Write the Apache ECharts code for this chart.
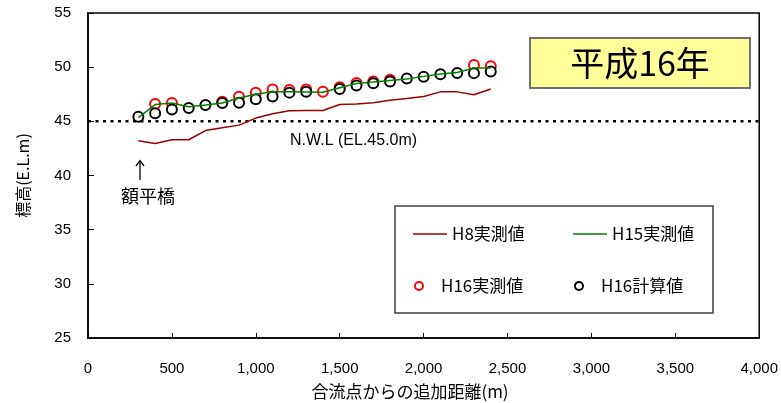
<!DOCTYPE html>
<html>
<head>
<meta charset="utf-8">
<script src="https://cdn.jsdelivr.net/npm/echarts@6/dist/echarts.min.js"></script>
<style>
html,body{margin:0;padding:0;background:#fff;}
#chart{width:781px;height:403px;}
</style>
</head>
<body>
<div id="chart"></div>
<script>
// ---- data ----
const seriesNames = ['H8実測値', 'H15実測値', 'H16実測値', 'H16計算値'];
const h8Dist  = [300,400,500,600,700,800,900,1000,1100,1200,1300,1400,1500,1600,1700,1800,1900,2000,2100,2200,2300,2400];
const h8Elev  = [43.2,42.95,43.3,43.3,44.15,44.4,44.65,45.3,45.7,45.98,46.0,46.0,46.55,46.6,46.72,46.95,47.1,47.3,47.72,47.72,47.45,47.98];
const h15Dist = [300,400,500,600,700,800,900,1000,1100,1200,1300,1400,1500,1600,1700,1800,1900,2000,2100,2200,2300,2400];
const h15Elev = [45.35,46.55,46.7,46.35,46.5,46.7,47.15,47.5,47.72,47.72,47.7,47.68,48.1,48.5,48.62,48.78,48.9,49.15,49.37,49.5,49.92,49.92];
const h16mDist = [400,500,800,900,1000,1100,1200,1300,1400,1500,1600,1700,1800,2300,2400];
const h16mElev = [46.6,46.7,46.8,47.27,47.65,47.95,47.9,47.95,47.72,48.15,48.55,48.68,48.85,50.2,50.08];
const h16cDist = [300,400,500,600,700,800,900,1000,1100,1200,1300,1500,1600,1700,1800,1900,2000,2100,2200,2300,2400];
const h16cElev = [45.43,45.75,46.1,46.22,46.5,46.7,46.72,47.03,47.3,47.65,47.72,47.98,48.3,48.52,48.68,48.95,49.12,49.35,49.47,49.45,49.6];
const nwlLevel = 45.0;
const xRange = [0, 4000];
const yRange = [25, 55];
const titleText = '平成16年';
const nwlText = 'N.W.L (EL.45.0m)';
const bridgeText = '額平橋';
const xTitle = '合流点からの追加距離(m)';
const yTitle = '標高(E.L.m)';

const zip = (xs, ys) => xs.map((x, i) => [x, ys[i]]);

const CJK = '"Noto Sans CJK JP", sans-serif';
const LAT = '"Liberation Sans", Arial, sans-serif';

const chart = echarts.init(document.getElementById('chart'), null, {renderer: 'canvas'});

function legendItem(name, left, top, isLine) {
  return {
    data: [isLine ? {name: name, icon: 'rect'} : {name: name, icon: 'emptyCircle'}],
    left: left, top: top, padding: 0,
    itemWidth: 34, itemHeight: isLine ? 1.5 : 8,
    symbolKeepAspect: true,
    selectedMode: false,
    itemStyle: isLine ? {} : {borderWidth: 1.2},
    textStyle: {fontFamily: CJK, fontSize: 17, color: '#000', lineHeight: 20}
  };
}

const option = {
  animation: false,
  backgroundColor: '#fff',
  grid: {left: 88, right: 16, top: 13, bottom: 65, show: true, borderColor: '#000', borderWidth: 1.5},
  legend: [
    legendItem(seriesNames[0], 413, 224, true),
    legendItem(seriesNames[1], 573, 224, true),
    legendItem(seriesNames[2], 414, 276, false),
    legendItem(seriesNames[3], 574, 276, false)
  ],
  xAxis: {
    type: 'value', min: xRange[0], max: xRange[1], interval: 500,
    axisLine: {lineStyle: {color: '#000', width: 1.5}},
    axisTick: {inside: true, length: 5, lineStyle: {color: '#000'}},
    splitLine: {show: false},
    axisLabel: {margin: 23, color: '#000', fontSize: 15, fontFamily: LAT,
      formatter: v => v.toLocaleString('en-US')}
  },
  yAxis: {
    type: 'value', min: yRange[0], max: yRange[1], interval: 5,
    name: yTitle, nameLocation: 'middle', nameGap: 57,
    nameTextStyle: {fontFamily: CJK, fontSize: 16, color: '#000'},
    axisLine: {lineStyle: {color: '#000', width: 1.5}},
    axisTick: {inside: true, length: 6, lineStyle: {color: '#000'}},
    splitLine: {show: false},
    axisLabel: {margin: 17, color: '#000', fontSize: 15, fontFamily: LAT, padding: [7, 0, 0, 0]}
  },
  series: [
    {
      name: 'NWL', type: 'line', data: [[xRange[0], nwlLevel], [xRange[1], nwlLevel]],
      symbol: 'none', silent: true,
      lineStyle: {color: '#000', width: 2.5, type: [3, 4.5]}
    },
    {
      name: seriesNames[0], type: 'line', data: zip(h8Dist, h8Elev),
      symbol: 'none', color: '#990000',
      lineStyle: {color: '#990000', width: 1.5}
    },
    {
      name: seriesNames[1], type: 'line', data: zip(h15Dist, h15Elev),
      symbol: 'none', color: '#008000',
      lineStyle: {color: '#008000', width: 1.5}
    },
    {
      name: seriesNames[2], type: 'scatter', data: zip(h16mDist, h16mElev),
      symbol: 'emptyCircle', symbolSize: 10,
      itemStyle: {color: '#ff0000', borderWidth: 1.3, opacity: 1}
    },
    {
      name: seriesNames[3], type: 'scatter', data: zip(h16cDist, h16cElev),
      symbol: 'emptyCircle', symbolSize: 10,
      itemStyle: {color: '#000000', borderWidth: 1.3, opacity: 1}
    }
  ],
  graphic: [
    {type: 'rect', shape: {x: 395, y: 206, width: 318, height: 107},
     style: {fill: '#fff', stroke: '#404040', lineWidth: 1.5}, z: 0},
    {type: 'rect', shape: {x: 530, y: 38, width: 220, height: 50},
     style: {fill: '#FFFF99', stroke: '#707070', lineWidth: 2}, z: 10},
    {type: 'text', x: 640, y: 63, z: 11,
     style: {text: titleText, fontFamily: CJK, fontSize: 34, fill: '#000', textAlign: 'center', textVerticalAlign: 'middle'}},
    {type: 'text', x: 290, y: 141, z: 11,
     style: {text: nwlText, fontFamily: LAT, fontSize: 16, fill: '#000', textAlign: 'left', textVerticalAlign: 'middle'}},
    {type: 'polyline', z: 11, shape: {points: [[140, 180], [140, 161]]}, style: {stroke: '#000', lineWidth: 1.3, fill: null}},
    {type: 'polyline', z: 11, shape: {points: [[136, 166], [140, 160.5], [144, 166]]}, style: {stroke: '#000', lineWidth: 1.3, fill: null}},
    {type: 'text', x: 148, y: 196, z: 11,
     style: {text: bridgeText, fontFamily: CJK, fontSize: 18, fill: '#000', textAlign: 'center', textVerticalAlign: 'middle'}},
    {type: 'text', x: 410, y: 392, z: 11,
     style: {text: xTitle, fontFamily: CJK, fontSize: 17, fill: '#000', textAlign: 'center', textVerticalAlign: 'middle'}}
  ]
};
chart.setOption(option);
</script>
</body>
</html>
